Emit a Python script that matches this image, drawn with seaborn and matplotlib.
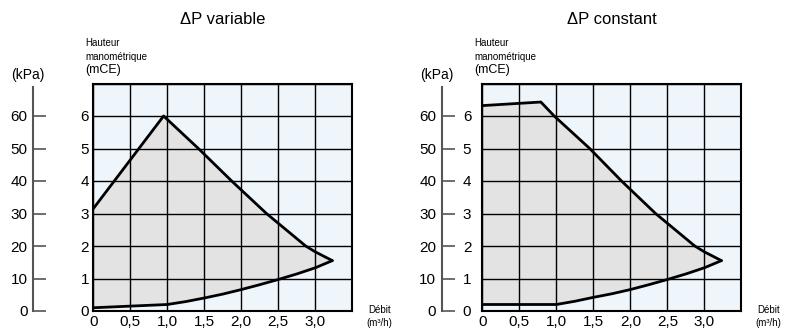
import numpy as np
import seaborn as sns
import matplotlib.pyplot as plt

# lecture des courbes (débit en m3/h, hauteur en mCE)
debit_var_haut = [0, 0.95, 1.42, 1.87, 2.34, 2.87, 3.0, 3.23]
hmt_var_haut = [3.15, 6.0, 5.0, 4.0, 3.0, 2.0, 1.82, 1.55]
debit_var_bas = [0, 0.5, 1.0, 1.25, 1.5, 1.75, 2.0, 2.25, 2.5, 2.75, 3.0, 3.23]
hmt_var_bas = [0.1, 0.15, 0.2, 0.29, 0.4, 0.52, 0.66, 0.81, 0.97, 1.14, 1.33, 1.55]

debit_cst_haut = [0, 0.79, 0.97, 1.45, 1.88, 2.34, 2.87, 3.0, 3.23]
hmt_cst_haut = [6.32, 6.43, 6.0, 5.0, 4.0, 3.0, 2.0, 1.82, 1.55]
debit_cst_bas = [0, 1.0, 1.25, 1.5, 1.75, 2.0, 2.25, 2.5, 2.75, 3.0, 3.23]
hmt_cst_bas = [0.2, 0.2, 0.3, 0.42, 0.53, 0.66, 0.81, 0.97, 1.14, 1.33, 1.55]

x_ticks = [0, 0.5, 1.0, 1.5, 2.0, 2.5, 3.0, 3.5]
x_labels = ["0", "0,5", "1,0", "1,5", "2,0", "2,5", "3,0", ""]
y_ticks = [0, 1, 2, 3, 4, 5, 6, 7]
y_labels = ["0", "1", "2", "3", "4", "5", "6", ""]
kpa_labels = ["0", "10", "20", "30", "40", "50", "60"]

titres = ["\u0394P variable", "\u0394P constant"]

sns.set_style("white")
plt.rcParams["font.family"] = ["Liberation Sans", "DejaVu Sans"]
plt.rcParams["text.color"] = "black"
plt.rcParams["xtick.color"] = "black"
plt.rcParams["ytick.color"] = "black"

W, H = 791, 331
fig = plt.figure(figsize=(W / 100, H / 100), dpi=100)


def px(x, y):
    return x / W, 1 - y / H


def panel(x0, kpa_x, ypad, titre, xh, yh, xb, yb):
    left, bottom = px(x0, 311)
    height = (311 - 83.5) / H
    width = 259 / W
    ax = fig.add_axes([left, bottom, width, height])
    ax.set_facecolor("#eef6fc")

    poly_x = np.concatenate([xh, xb[::-1]])
    poly_y = np.concatenate([yh, yb[::-1]])
    ax.fill(poly_x, poly_y, color="#e3e3e3", zorder=1, lw=0)
    sns.lineplot(x=xh, y=yh, sort=False, color="black", lw=2, ax=ax, zorder=4)
    sns.lineplot(x=xb, y=yb, sort=False, color="black", lw=2, ax=ax, zorder=4)

    ax.set_xlim(0, 3.5)
    ax.set_ylim(0, 7)
    ax.set_xticks(x_ticks)
    ax.set_xticklabels(x_labels)
    ax.set_yticks(y_ticks)
    ax.set_yticklabels(y_labels)
    ax.set_axisbelow(False)
    ax.grid(True, color="black", lw=1)
    ax.tick_params(axis="x", length=0, pad=3, labelsize=11)
    ax.tick_params(axis="y", length=0, pad=ypad, labelsize=11)
    for s in ax.spines.values():
        s.set_color("black")
        s.set_linewidth(1.5)
    ax.set_xlabel("")
    ax.set_ylabel("")

    # échelle kPa
    kl, kb = px(kpa_x, 311)
    kax = fig.add_axes([kl, kb, 0.0001, height])
    kax.set_ylim(0, 7)
    kax.set_yticks(y_ticks[:7])
    kax.set_yticklabels(kpa_labels)
    kax.set_xticks([])
    for nom in ["top", "right", "bottom"]:
        kax.spines[nom].set_visible(False)
    kax.spines["left"].set_color("#555555")
    kax.spines["left"].set_linewidth(1.5)
    kax.spines["left"].set_bounds(0, 6.9)
    kax.tick_params(axis="y", left=True, direction="in", length=9, width=1.2,
                    color="#555555", pad=4, labelsize=11)
    kax.patch.set_visible(False)

    cx = x0 + 129.5
    fig.text(*px(cx, 20), titre, ha="center", va="center", fontsize=12)
    fig.text(*px(kpa_x - 5, 75), "(kPa)", ha="center", va="center", fontsize=10)
    fig.text(*px(x0 - 8, 43), "Hauteur", ha="left", va="center", fontsize=7)
    fig.text(*px(x0 - 8, 57), "manométrique", ha="left", va="center", fontsize=7)
    fig.text(*px(x0 - 8, 70), "(mCE)", ha="left", va="center", fontsize=9)
    fig.text(*px(x0 + 286, 310), "Débit", ha="center", va="center", fontsize=7)
    fig.text(*px(x0 + 286, 323), "(m³/h)", ha="center", va="center", fontsize=7)
    return ax


panel(93.3, 33.3, 3, titres[0],
      np.array(debit_var_haut), np.array(hmt_var_haut),
      np.array(debit_var_bas), np.array(hmt_var_bas))
panel(482.4, 441.7, 8, titres[1],
      np.array(debit_cst_haut), np.array(hmt_cst_haut),
      np.array(debit_cst_bas), np.array(hmt_cst_bas))

fig.savefig("out.png", dpi=100)
